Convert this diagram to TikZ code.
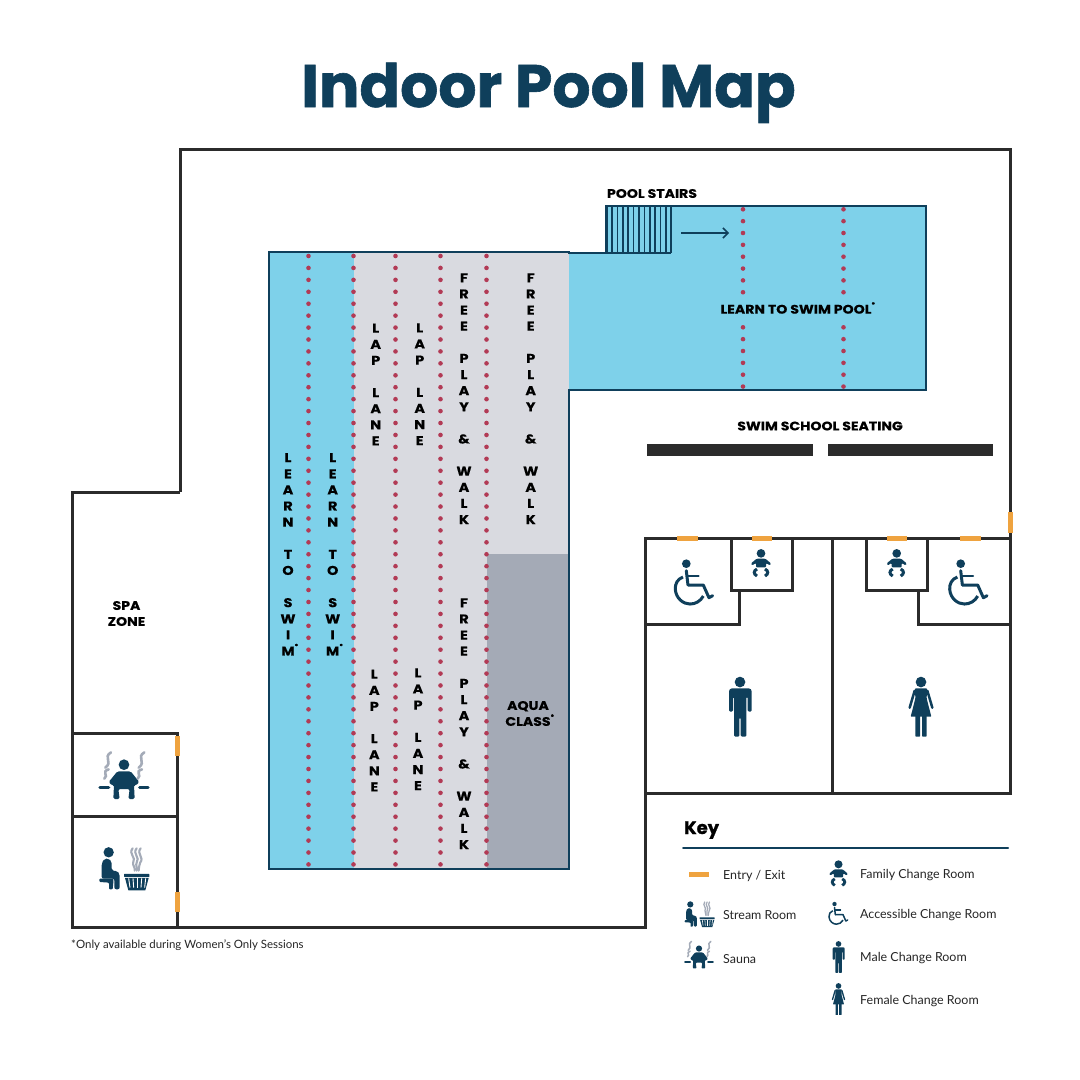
\documentclass[tikz,border=0pt]{standalone}
\usepackage{fontspec}
\setmainfont{Lato}
\newfontfamily\popf{Poppins}[BoldFeatures={FakeStretch=1.13,FakeBold=0.4}]
\newfontfamily\titf{Poppins}[BoldFeatures={FakeBold=1.0}]
\usetikzlibrary{arrows.meta}
\definecolor{navy}{HTML}{0F3F5B}
\definecolor{wallc}{HTML}{2B2B2B}
\definecolor{waterc}{HTML}{7ED1EA}
\definecolor{lanec}{HTML}{D9DAE0}
\definecolor{aquac}{HTML}{A4AAB6}
\definecolor{dotc}{HTML}{B23A55}
\definecolor{doorc}{HTML}{EFA33F}
\definecolor{steamc}{HTML}{A4ABB8}
\tikzset{
  wall/.style={draw=wallc,line width=3bp,line join=miter,line cap=square},
  pooledge/.style={draw=navy,line width=2bp},
  door/.style={draw=doorc,line width=5bp},
  lbl/.style={font=\popf\bfseries\fontsize{12.5}{16}\selectfont,text=black,inner sep=0pt,align=center},
  stack/.style={font=\popf\bfseries\fontsize{12.8}{16.17}\selectfont,text=black,inner sep=0pt,align=center,anchor=north},
  keytext/.style={font=\fontsize{12.5}{14}\selectfont,text=black!85,inner sep=0pt,anchor=west},
  ico/.style={fill=navy,draw=none},
  stm/.style={draw=steamc,line cap=round,fill=none},
}
\newcommand{\dotcol}[4]{\foreach \i in {0,...,#4}{\fill[dotc] (#1,{#2+\i*#3}) circle (2.3);}}
% icons: drawn in coordinates of a 3x crop
\newcommand{\iconsauna}[3]{\begin{scope}[shift={(#1,#2)},scale=#3/3,shift={(-192,-170)}]
  \fill[ico] (192,134) circle (16);
  \fill[ico,rounded corners=#3*1.5bp] (172,154) -- (212,154) -- (238,186) -- (227,197) -- (222,194) -- (224,237) -- (205,237) -- (209,207) -- (175,207) -- (179,237) -- (160,237) -- (162,194) -- (157,197) -- (146,186) -- cycle;
  \draw[navy,line width=#3*3.3bp,line cap=round] (120,202) -- (146,202) (239,202) -- (264,202);
  \foreach \xx in {0,100}{
  \draw[stm,line width=#3*2.6bp] (\xx+153,97) .. controls (\xx+128,112) and (\xx+160,125) .. (\xx+136,143);
  \draw[stm,line width=#3*2.6bp] (\xx+146,148) .. controls (\xx+123,155) and (\xx+147,165) .. (\xx+133,176);}
\end{scope}}
\newcommand{\iconsteam}[3]{\begin{scope}[shift={(#1,#2)},scale=#3/3,shift={(-192,-445)}]
  \fill[ico] (146,397) circle (15.5);
  \fill[ico,rounded corners=#3*2bp] (125,430) -- (133,416) -- (146,416) -- (155,424) -- (155,452) -- (172,453) -- (179,462) -- (179,508) -- (163,508) -- (163,476) -- (125,476) -- cycle;
  \fill[ico,rounded corners=#3*1bp] (118,476) -- (160,476) -- (160,488) -- (158,508) -- (147,508) -- (147,488) -- (118,486) -- cycle;
  \fill[ico,rounded corners=#3*.5bp] (192,462) -- (268,462) -- (268,471) -- (192,471) -- cycle;
  \fill[ico] (195,474) -- (266,474) -- (256,511) -- (205,511) -- cycle;
  \foreach \xa/\xb in {206/210,219/221,232/232,245/243,257/254}{\draw[white,line width=#3*.9bp] (\xa,475) -- (\xb,503);}
  \foreach \xx in {-15,0,15}{\draw[stm,line width=#3*2.1bp] (230+\xx*.8,385) .. controls (216+\xx*.8,402) and (242+\xx*.8,412) .. (230+\xx*.7,428) .. controls (226+\xx*.6,435) and (233+\xx*.4,445) .. (230+\xx*.4,452);}
\end{scope}}
\newcommand{\iconfamily}[3]{\begin{scope}[shift={(#1,#2)},scale=#3/3,shift={(-363,-98)}]
  \fill[ico] (363,70) circle (13);
  \fill[ico,rounded corners=#3*1bp] (350,86) -- (376,86) -- (393,100) -- (390,106) -- (378,99) -- (378,112) -- (348,112) -- (348,99) -- (336,106) -- (333,100) -- cycle;
  \draw[navy,line width=#3*3bp] (351,117) .. controls (340,122) and (340,132) .. (351,138);
  \draw[navy,line width=#3*3bp] (375,117) .. controls (386,122) and (386,132) .. (375,138);
\end{scope}}
\newcommand{\iconwheel}[3]{\begin{scope}[shift={(#1,#2)},scale=#3/3,shift={(-160,-155)}]
  \fill[ico] (139,101) circle (13);
  \draw[navy,line width=#3*3bp,line cap=round] (139,122) -- (144,165);
  \draw[navy,line width=#3*2.2bp,line cap=round] (143,137) -- (176,137);
  \draw[navy,line width=#3*3bp,line join=round,line cap=round] (145,165) -- (190,165) -- (207,203) -- (218,197);
  \draw[navy,line width=#3*3bp] (129,141) .. controls (112,147) and (105,162) .. (106,178) .. controls (108,205) and (130,222) .. (150,222) .. controls (167,222) and (182,213) .. (190,198);
\end{scope}}
\newcommand{\iconmale}[3]{\begin{scope}[shift={(#1,#2)},scale=#3/3,shift={(-300,-530)}]
  \fill[ico] (300,456) circle (16);
  \fill[ico,rounded corners=#3*1.3bp] (272,475) -- (330,475) -- (335,480) -- (335,545) -- (323,545) -- (323,500) -- (319,500) -- (319,620) -- (302,620) -- (302,562) -- (298,562) -- (298,620) -- (282,620) -- (282,500) -- (279,500) -- (279,545) -- (267,545) -- (267,480) -- cycle;
\end{scope}}
\newcommand{\iconfemale}[3]{\begin{scope}[shift={(#1,#2)},scale=#3/3,shift={(-843,-530)}]
  \fill[ico] (843,456) circle (16);
  \fill[ico,rounded corners=#3*.7bp] (825,475) -- (861,475) -- (860,505) -- (874,560) -- (812,560) -- (826,505) -- cycle;
  \draw[navy,line width=#3*2.5bp,line cap=round] (824,482) -- (809,533) (862,482) -- (877,533);
  \fill[ico,rounded corners=#3*.7bp] (826,556) -- (840,556) -- (840,620) -- (826,620) -- cycle;
  \fill[ico,rounded corners=#3*.7bp] (846,556) -- (860,556) -- (860,620) -- (846,620) -- cycle;
\end{scope}}
\begin{document}
\begin{tikzpicture}[x=1bp,y=-1bp]
\useasboundingbox[fill=white] (0,0) rectangle (1080,1080);
% title
\node[inner sep=0pt,text=navy,font=\titf\bfseries\fontsize{60.2}{61}\selectfont,anchor=base] (title) at (548.5,107) {Indoor Pool Map};
% pool
\fill[waterc] (269,252) rectangle (569,869);
\fill[lanec] (354,252) rectangle (569,869);
\fill[aquac] (487,554) rectangle (569,869);
\fill[waterc] (569,253) -- (606,253) -- (606,206) -- (926,206) -- (926,390) -- (569,390) -- cycle;
\draw[pooledge,line join=miter] (569,390) -- (926,390) -- (926,206) -- (606,206) -- (606,253) -- (569,253) -- (569,252) -- (269,252) -- (269,869) -- (569,869) -- cycle;
% stairs
\foreach \i in {0,...,12}{\draw[navy,line width=1.6bp] ({606.7+\i*5.38},206) -- ({606.7+\i*5.38},253);}
\draw[navy,line width=1.6bp] (606,253) -- (671.3,253);
\coordinate (arrowa) at (681,233);
\coordinate (arrowb) at (729,233);
\draw[navy,line width=1.5bp,-{Straight Barb[length=5bp,width=10bp,line width=1.5bp]}] (arrowa) -- (arrowb);
% lane dots
\dotcol{308.5}{256}{11.93}{51}
\dotcol{353.5}{256}{11.93}{51}
\dotcol{395.5}{256}{11.93}{51}
\dotcol{440.5}{256}{11.93}{51}
\dotcol{486.5}{256}{11.93}{51}
\dotcol{743}{209.3}{11.85}{7}
\dotcol{843.5}{209.3}{11.85}{7}
\dotcol{743}{327.3}{11.85}{5}
\dotcol{843.5}{327.3}{11.85}{5}
% walls
\draw[wall] (180,492) -- (180,149) -- (1010,149) -- (1010,793) -- (645,793);
\draw[wall] (180,492) -- (72,492) -- (72,927) -- (645,927) -- (645,538) -- (1010,538);
\draw[wall] (72,733) -- (177,733) -- (177,927);
\draw[wall] (72,816) -- (177,816);
\draw[wall] (731,538) -- (731,590) -- (792,590) -- (792,538);
\draw[wall] (739.5,590) -- (739.5,624) -- (645,624);
\draw[wall] (832.5,538) -- (832.5,793);
\draw[wall] (866,538) -- (866,590) -- (927,590) -- (927,538);
\draw[wall] (918,590) -- (918,624) -- (1010,624);
% seating
\fill[wallc] (647,444) rectangle (813,456);
\fill[wallc] (828,444) rectangle (993,456);
% doors
\draw[door] (677,538) -- (698,538);
\draw[door] (752,538) -- (772,538);
\draw[door] (887,538) -- (907,538);
\draw[door] (960,538) -- (981,538);
\draw[door] (1010,512) -- (1010,533);
\draw[door] (177,736) -- (177,756);
\draw[door] (177,892) -- (177,912);
% labels
\node[lbl] (stairs) at (652,193.5) {POOL STAIRS};
\node[lbl] (lsp) at (796,308) {LEARN TO SWIM POOL\rlap{\raisebox{1ex}{\fontsize{6}{6}\selectfont *}}};
\node[lbl] (seating) at (820,426) {SWIM SCHOOL SEATING};
\node[lbl] (spa) at (126.5,613.5) {SPA\\[0pt]ZONE};
\node[lbl] (aqua) at (528,713.5) {AQUA\\[0pt]CLASS\rlap{\raisebox{1ex}{\fontsize{6}{6}\selectfont *}}};
\newcommand{\swimtxt}{L\\E\\A\\R\\N\\~\\T\\O\\~\\S\\W\\I\\M\rlap{\raisebox{1ex}{\fontsize{6}{6}\selectfont *}}}
\newcommand{\laptxt}{L\\A\\P\\~\\L\\A\\N\\E}
\newcommand{\freetxt}{F\\R\\E\\E\\~\\P\\L\\A\\Y\\~\\\&\\~\\W\\A\\L\\K}
\node[stack] (swima) at (288,453) {\swimtxt};
\node[stack] (swimb) at (332.7,453) {\swimtxt};
\node[stack] (lapa) at (375.7,323.5) {\laptxt};
\node[stack] (lapb) at (419.7,323.2) {\laptxt};
\node[stack] (lapc) at (374.3,669.5) {\laptxt};
\node[stack] (lapd) at (418,668.2) {\laptxt};
\node[stack] (freea) at (464,273.2) {\freetxt};
\node[stack] (freeb) at (530.7,273.2) {\freetxt};
\node[stack] (freec) at (464,598.2) {\freetxt};
% room icons
\iconsauna{124}{776.7}{1}
\iconsteam{124}{868.3}{1}
\iconwheel{693.3}{581.7}{1}
\iconwheel{967.7}{581.7}{1}
\iconfamily{761}{562.7}{1}
\iconfamily{896.7}{562.7}{1}
\iconmale{740}{706.7}{1}
\iconfemale{921}{706.7}{1}
% footnote
\node[inner sep=0pt,anchor=west,font=\fontsize{11.5}{12}\selectfont,text=black!85] (note) at (71,945.5) {*Only available during Women's Only Sessions};
% key
\node[inner sep=0pt,anchor=base west,font=\titf\bfseries\fontsize{18}{18}\selectfont,text=black] (keyt) at (684,834) {Key};
\coordinate (keya) at (683,848);
\coordinate (keyb) at (1008,848);
\draw[navy,line width=2bp,line cap=round] (keya) -- (keyb);
\draw[door] (689,874) -- (709,874);
\iconsteam{699.5}{914}{.6}
\iconsauna{699}{955.5}{.58}
\iconfamily{838.5}{873}{.93}
\iconwheel{838}{913}{.5}
\iconmale{838.5}{957}{.53}
\iconfemale{838.5}{999}{.53}
\node[keytext] (ka) at (723,875.5) {Entry / Exit};
\node[keytext] (kb) at (723,915.5) {Stream Room};
\node[keytext] (kc) at (723,959.5) {Sauna};
\node[keytext] (kd) at (860,875.5) {Family Change Room};
\node[keytext] (ke) at (860,915.5) {Accessible Change Room};
\node[keytext] (kf) at (860,958.5) {Male Change Room};
\node[keytext] (kg) at (860,1001.5) {Female Change Room};
\end{tikzpicture}
\end{document}
